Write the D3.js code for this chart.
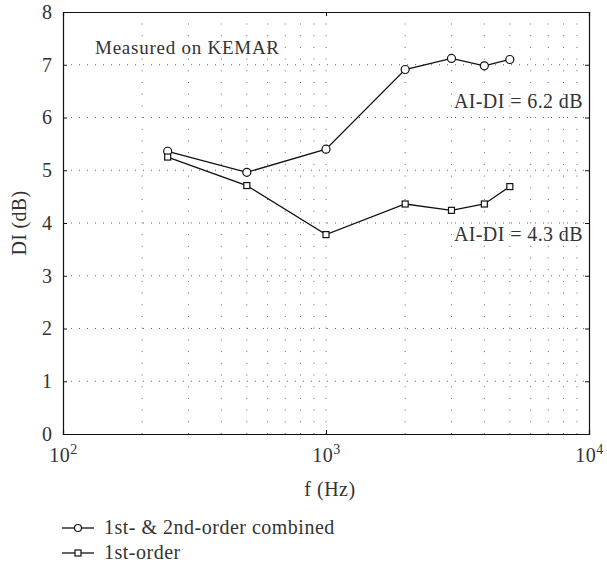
<!DOCTYPE html>
<html>
<head>
<meta charset="utf-8">
<script src="https://cdn.jsdelivr.net/npm/d3@7"></script>
<style>
  body { margin: 0; background: #fff; }
</style>
</head>
<body>
<div class="chart"></div>
<script>
var svgWidth = 607;
var svgHeight = 565;

// data
var freqs = [250, 500, 1000, 2000, 3000, 4000, 5000];
var combined = [5.36, 4.96, 5.40, 6.91, 7.12, 6.98, 7.10];
var firstOrder = [5.25, 4.71, 3.78, 4.36, 4.24, 4.36, 4.69];
var xMajor = [100, 1000, 10000];
var xMinor = [200, 300, 400, 500, 600, 700, 800, 900, 2000, 3000, 4000, 5000, 6000, 7000, 8000, 9000];
var yTicks = [0, 1, 2, 3, 4, 5, 6, 7, 8];
var seriesNames = ["1st- & 2nd-order combined", "1st-order"];

var INK = "#333";

var margin = { top: 12, right: 18, bottom: 131, left: 63 };
var width = svgWidth - margin.left - margin.right;
var height = svgHeight - margin.top - margin.bottom;

var svg = d3.select(".chart")
  .append("svg")
  .attr("width", svgWidth)
  .attr("height", svgHeight)
  .attr("font-family", "Liberation Serif");

var chartGroup = svg.append("g")
  .attr("transform", `translate(${margin.left}, ${margin.top})`);

var x = d3.scaleLog().domain([100, 10000]).range([0, width]);
var y = d3.scaleLinear().domain([0, 8]).range([height, 0]);

function label(sel, size, spacing) {
  return sel.attr("font-family", "Liberation Serif")
    .attr("font-size", size)
    .attr("letter-spacing", spacing || 0)
    .attr("fill", INK);
}

// dotted grid
chartGroup.selectAll(".vgrid")
  .data(xMinor.concat([1000]))
  .enter()
  .append("line")
  .attr("x1", d => x(d)).attr("x2", d => x(d))
  .attr("y1", height).attr("y2", 0)
  .attr("stroke", "#666")
  .attr("stroke-width", 1)
  .attr("stroke-dasharray", "1,10.7");

chartGroup.selectAll(".hgrid")
  .data(yTicks.slice(1, -1))
  .enter()
  .append("line")
  .attr("x1", 0).attr("x2", width)
  .attr("y1", d => y(d)).attr("y2", d => y(d))
  .attr("stroke", "#666")
  .attr("stroke-width", 1)
  .attr("stroke-dasharray", "1,7");

// axes
var bottomAxis = d3.axisBottom(x).tickValues(xMajor).tickSize(-4).tickFormat("");
var topAxis = d3.axisTop(x).tickValues(xMajor).tickSize(-4).tickFormat("");
var leftAxis = d3.axisLeft(y).tickValues(yTicks).tickSize(-4).tickPadding(11);
var rightAxis = d3.axisRight(y).tickValues(yTicks).tickSize(-4).tickFormat("");

var gx = chartGroup.append("g").attr("transform", `translate(0, ${height})`).call(bottomAxis);
var gt = chartGroup.append("g").call(topAxis);
var gy = chartGroup.append("g").call(leftAxis);
var gr = chartGroup.append("g").attr("transform", `translate(${width}, 0)`).call(rightAxis);
[gx, gt, gy, gr].forEach(g => g.attr("font-family", "Liberation Serif"));

chartGroup.selectAll(".domain").attr("stroke", "#111").attr("stroke-width", 1.2);
chartGroup.selectAll(".tick line").attr("stroke", "#111");

label(gy.selectAll("text"), 20);

// 10^n labels
gx.selectAll(".tick").each(function (d) {
  var t = label(d3.select(this).append("text"), 20, 0.5)
    .attr("y", 28)
    .attr("text-anchor", "middle");
  t.append("tspan").text("10");
  t.append("tspan").attr("dy", -8).attr("font-size", 14).text(Math.round(Math.log10(d)));
});

// lines and markers
var line = d3.line()
  .x((d, i) => x(freqs[i]))
  .y(d => y(d));

[combined, firstOrder].forEach(function (s) {
  chartGroup.append("path")
    .datum(s)
    .attr("d", line)
    .attr("fill", "none")
    .attr("stroke", "#111")
    .attr("stroke-width", 1.3);
});

chartGroup.selectAll(".circ")
  .data(combined)
  .enter()
  .append("circle")
  .attr("cx", (d, i) => x(freqs[i]))
  .attr("cy", d => y(d))
  .attr("r", 4)
  .attr("fill", "#fff")
  .attr("stroke", "#111")
  .attr("stroke-width", 1.2);

chartGroup.selectAll(".sq")
  .data(firstOrder)
  .enter()
  .append("rect")
  .attr("x", (d, i) => x(freqs[i]) - 3)
  .attr("y", d => y(d) - 3)
  .attr("width", 6)
  .attr("height", 6)
  .attr("fill", "#fff")
  .attr("stroke", "#111")
  .attr("stroke-width", 1.2);

// annotations
label(chartGroup.append("text"), 19, 0.75)
  .attr("x", 32).attr("y", 42)
  .text("Measured on KEMAR");

label(chartGroup.append("text"), 20, 0.4)
  .attr("x", width - 6).attr("y", 96)
  .attr("text-anchor", "end")
  .text("AI-DI = 6.2 dB");

label(chartGroup.append("text"), 20, 0.4)
  .attr("x", width - 6).attr("y", 229)
  .attr("text-anchor", "end")
  .text("AI-DI = 4.3 dB");

// axis titles
label(chartGroup.append("text"), 20, 0.3)
  .attr("transform", "rotate(-90)")
  .attr("x", 0 - y(4))
  .attr("y", -37)
  .attr("text-anchor", "middle")
  .text("DI (dB)");

label(chartGroup.append("text"), 20, 0.5)
  .attr("x", x(1000) + 4)
  .attr("y", height + 62)
  .attr("text-anchor", "middle")
  .text("f (Hz)");

// legend
var legend = svg.append("g").attr("transform", "translate(62, 528)");
seriesNames.forEach(function (name, i) {
  var g = legend.append("g").attr("transform", `translate(0, ${i * 25})`);
  g.append("line").attr("x1", 0).attr("x2", 32).attr("y1", 0).attr("y2", 0)
    .attr("stroke", "#111").attr("stroke-width", 1.3);
  if (i === 0) {
    g.append("circle").attr("cx", 16).attr("cy", 0).attr("r", 3.5)
      .attr("fill", "#fff").attr("stroke", "#111").attr("stroke-width", 1.2);
  } else {
    g.append("rect").attr("x", 13).attr("y", -3).attr("width", 6).attr("height", 6)
      .attr("fill", "#fff").attr("stroke", "#111").attr("stroke-width", 1.2);
  }
  label(g.append("text"), 20, 0.5)
    .attr("x", 42).attr("y", 6)
    .text(name);
});
</script>
</body>
</html>
